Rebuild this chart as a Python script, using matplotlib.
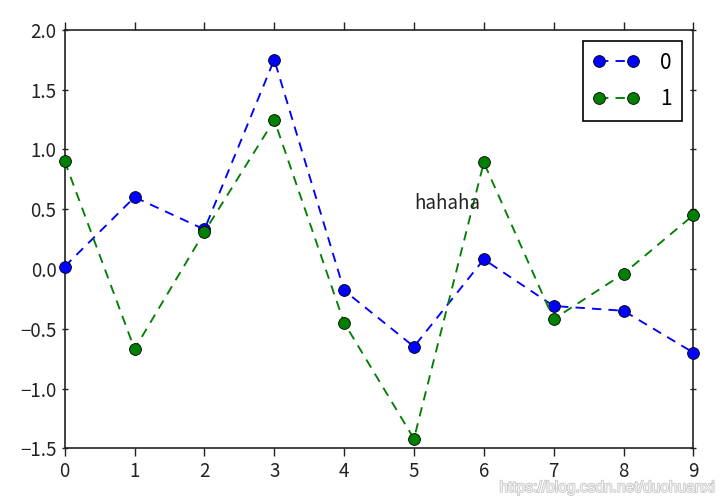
import matplotlib
matplotlib.use("Agg")
import matplotlib.pyplot as plt
import matplotlib.patheffects as pe

plt.rcParams['font.family'] = ['Noto Sans CJK SC', 'DejaVu Sans']
plt.rcParams['axes.unicode_minus'] = True

x = [0, 1, 2, 3, 4, 5, 6, 7, 8, 9]
series_0 = [0.02, 0.60, 0.33, 1.75, -0.18, -0.65, 0.08, -0.31, -0.35, -0.70]
series_1 = [0.90, -0.67, 0.31, 1.245, -0.45, -1.42, 0.89, -0.42, -0.04, 0.45]
labels = ['0', '1']
xticks = [0, 1, 2, 3, 4, 5, 6, 7, 8, 9]
yticks = [-1.5, -1.0, -0.5, 0.0, 0.5, 1.0, 1.5, 2.0]

fig = plt.figure(figsize=(7.23, 5.04), dpi=100)
ax = fig.add_axes([0.0895, 0.1105, 0.8695, 0.8305])

for vals, col, lab in zip([series_0, series_1], ['#0000ff', '#008000'], labels):
    ax.plot(x, vals, linestyle=(0, (5, 3.8)), color=col, marker='o',
            markersize=8.5, markeredgecolor='black', markeredgewidth=0.6,
            linewidth=1.35, label=lab, clip_on=False, zorder=3)

ax.text(5, 0.5, 'hahaha', fontsize=13.5, color='#222222')

ax.set_xlim(0, 9)
ax.set_ylim(-1.5, 2.0)
ax.set_xticks(xticks)
ax.set_yticks(yticks)
ax.set_yticklabels([f"{v:.1f}".replace('-', '\u2212') for v in yticks])
ax.tick_params(axis='x', direction='out', length=5.5, width=1, top=True, labelsize=13.5, colors='#222222')
ax.tick_params(axis='y', direction='inout', length=5, width=1, right=True, labelsize=13.5, colors='#222222')
for sp in ax.spines.values():
    sp.set_linewidth(1.2)
    sp.set_color('#222222')

leg = ax.legend(loc='upper right', numpoints=2, fontsize=15, fancybox=False,
                framealpha=1, edgecolor='black', borderaxespad=0.55,
                handlelength=2.2, handletextpad=1.0, borderpad=0.5, labelspacing=0.7)
leg.get_frame().set_linewidth(1.2)

fig.text(0.988, 0.024, 'https://blog.csdn.net/duohuanxi', family='Liberation Sans',
         fontsize=11.2, color='#f4f4f4', ha='right',
         path_effects=[pe.withStroke(linewidth=1.2, foreground='#c8c8c8')])

fig.savefig('out.png', dpi=100)
